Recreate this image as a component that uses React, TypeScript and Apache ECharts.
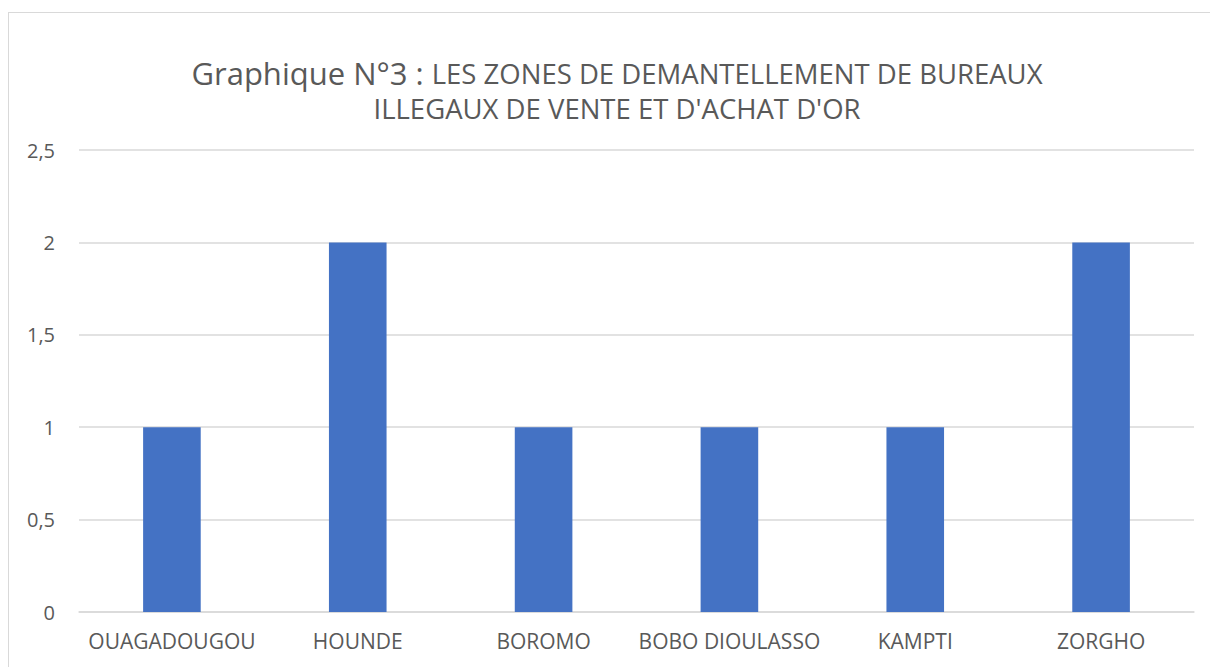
import React, { useEffect, useRef } from "react";
import * as echarts from "echarts";

const categories = ["OUAGADOUGOU", "HOUNDE", "BOROMO", "BOBO DIOULASSO", "KAMPTI", "ZORGHO"];
const values = [1, 2, 1, 1, 1, 2];
const titleLead = "Graphique N°3 : ";
const titleLine1 = "LES ZONES DE DEMANTELLEMENT DE BUREAUX";
const titleLine2 = "ILLEGAUX DE VENTE ET D'ACHAT D'OR";

const FONT = "'Open Sans', sans-serif";

export default function App() {
  const ref = useRef<HTMLDivElement>(null);
  useEffect(() => {
    if (!ref.current) return;
    const chart = echarts.init(ref.current, undefined, { renderer: "svg" });
    chart.setOption({
      animation: false,
      backgroundColor: "#ffffff",
      textStyle: { fontFamily: FONT },
      title: {
        left: "center",
        top: 36,
        text: `{a|${titleLead}}{b|${titleLine1}}\n{b|${titleLine2}}`,
        textStyle: {
          color: "#595959",
          fontFamily: FONT,
          fontWeight: "normal",
          rich: {
            a: { fontSize: 31, color: "#595959", fontFamily: FONT, lineHeight: 38 },
            b: { fontSize: 27.5, color: "#595959", fontFamily: FONT, lineHeight: 32 },
          },
        },
      },
      grid: { left: 70, right: 31, top: 137, bottom: 81, containLabel: false },
      xAxis: {
        type: "category",
        data: categories,
        axisTick: { show: false },
        axisLine: { lineStyle: { color: "#d9d9d9", width: 1.5 } },
        axisLabel: { color: "#595959", fontSize: 21, fontFamily: FONT, margin: 18, interval: 0 },
      },
      yAxis: {
        type: "value",
        min: 0,
        max: 2.5,
        interval: 0.5,
        axisLine: { show: false },
        axisTick: { show: false },
        splitLine: { lineStyle: { color: "#d9d9d9", width: 1.5 } },
        axisLabel: {
          color: "#595959",
          fontSize: 20,
          fontFamily: FONT,
          margin: 24,
          formatter: (v: number) => String(v).replace(".", ","),
        },
      },
      series: [
        {
          type: "bar",
          data: values,
          barWidth: "31%",
          itemStyle: { color: "#4472C4" },
        },
      ],
    });
    return () => chart.dispose();
  }, []);
  return (
    <div style={{ position: "fixed", left: 0, top: 0, width: 1210, height: 667, overflow: "hidden", background: "#fff" }}>
      <div
        style={{
          position: "absolute",
          left: 8,
          top: 12,
          width: 1216,
          height: 680,
          border: "1px solid #d9d9d9",
        }}
      >
        <div ref={ref} style={{ width: 1216, height: 680 }} />
      </div>
    </div>
  );
}
